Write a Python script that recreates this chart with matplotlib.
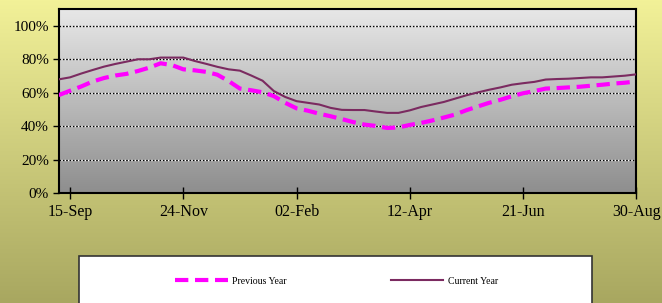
import matplotlib.pyplot as plt
import numpy as np
from matplotlib.patches import Rectangle

# weekly values, 08-Sep .. 30-Aug (52 weeks)
previous_year = [58.6, 61.2, 63.8, 66.7, 68.8, 70.3, 71.3, 73.0, 75.0, 77.6,
                 76.5, 74.0, 73.4, 72.5, 70.8, 67.0, 62.5, 61.5, 60.3, 58.0,
                 54.0, 50.7, 49.3, 47.5, 46.0, 44.3, 42.5, 41.0, 40.2, 39.0,
                 39.3, 40.8, 42.0, 43.5, 45.2, 47.0, 49.6, 51.8, 54.0, 55.8,
                 57.9, 59.7, 61.0, 62.5, 62.8, 63.2, 63.6, 64.2, 64.8, 65.5,
                 66.0, 66.8]
current_year = [68.0, 69.2, 71.5, 73.6, 75.6, 77.2, 78.6, 80.0, 80.0, 81.0,
                81.0, 81.0, 79.0, 77.3, 75.5, 74.0, 73.2, 70.3, 67.2, 61.0,
                57.5, 55.0, 54.0, 53.0, 51.0, 49.8, 49.7, 49.7, 48.8, 48.0,
                48.0, 49.5, 51.5, 53.0, 54.5, 56.5, 58.5, 60.2, 61.8, 63.2,
                64.8, 65.7, 66.5, 67.9, 68.2, 68.4, 68.8, 69.2, 69.2, 69.7,
                70.2, 71.0]
tick_pos = [1, 11, 21, 31, 41, 51]
tick_labels = ['15-Sep', '24-Nov', '02-Feb', '12-Apr', '21-Jun', '30-Aug']
y_ticks = [0, 20, 40, 60, 80, 100]

weeks = np.arange(len(previous_year))

plt.rcParams['font.family'] = ['Liberation Serif', 'DejaVu Serif']

fig = plt.figure(figsize=(6.62, 3.03), dpi=100)

# figure background gradient (pale yellow -> olive)
bg = fig.add_axes([0, 0, 1, 1], zorder=-10)
top_c = np.array([242, 241, 152]) / 255
bot_c = np.array([168, 167, 96]) / 255
t = np.linspace(0, 1, 256)[:, None]
grad = top_c * (1 - t[..., None]) + bot_c * t[..., None]
grad = np.repeat(grad, 2, axis=1)
bg.imshow(grad, aspect='auto', extent=[0, 1, 0, 1])
bg.set_axis_off()

ax = fig.add_axes([58.7 / 662, 1 - 193.3 / 303, (636.3 - 58.7) / 662, (193.3 - 9) / 303])
ax.set_xlim(0, 51)
ax.set_ylim(0, 110)

# plot area gradient (light grey -> darker grey)
g_top = np.array([232, 232, 232]) / 255
g_bot = np.array([142, 142, 142]) / 255
pgrad = g_top * (1 - t[..., None]) + g_bot * t[..., None]
pgrad = np.repeat(pgrad, 2, axis=1)
ax.imshow(pgrad, aspect='auto', extent=[0, 51, 0, 110], zorder=0)

for yv in y_ticks[1:]:
    ax.axhline(yv, color='white', lw=1.0, zorder=1)
    ax.axhline(yv, color='black', lw=1.0, ls=(0, (1.2, 1.2)), zorder=1.5)

ax.plot(weeks, previous_year, color='#FF00FF', lw=3, ls=(0, (3.2, 1.6)),
        label='Previous Year', zorder=3)
ax.plot(weeks, current_year, color='#7B2A60', lw=1.5,
        label='Current Year', zorder=4)

ax.set_xticks(tick_pos)
ax.set_xticklabels(tick_labels)
ax.set_yticks(y_ticks)
ax.set_yticklabels([f'{v}%' for v in y_ticks])
ax.tick_params(axis='x', direction='inout', length=8, width=1, pad=4, labelsize=11.5)
ax.tick_params(axis='y', direction='out', length=4, width=1, pad=3, labelsize=11)
for s in ax.spines.values():
    s.set_linewidth(1.5)
    s.set_color('black')

# legend box (runs off the bottom edge)
box = Rectangle((79 / 662, -0.2), (592 - 79) / 662, 0.2 + (1 - 256 / 303),
                transform=fig.transFigure, facecolor='white', edgecolor='#333333',
                lw=1.2, zorder=5)
fig.add_artist(box)
handles, labels = ax.get_legend_handles_labels()
leg = fig.legend(handles, labels, loc='center left',
                 bbox_to_anchor=(175 / 662, 1 - 281 / 303), ncol=2,
                 frameon=False, fontsize=7, handlelength=5.4,
                 handletextpad=0.5, columnspacing=10.7, borderpad=0,
                 borderaxespad=0)
leg.set_zorder(6)

fig.savefig('out.png', dpi=100)
